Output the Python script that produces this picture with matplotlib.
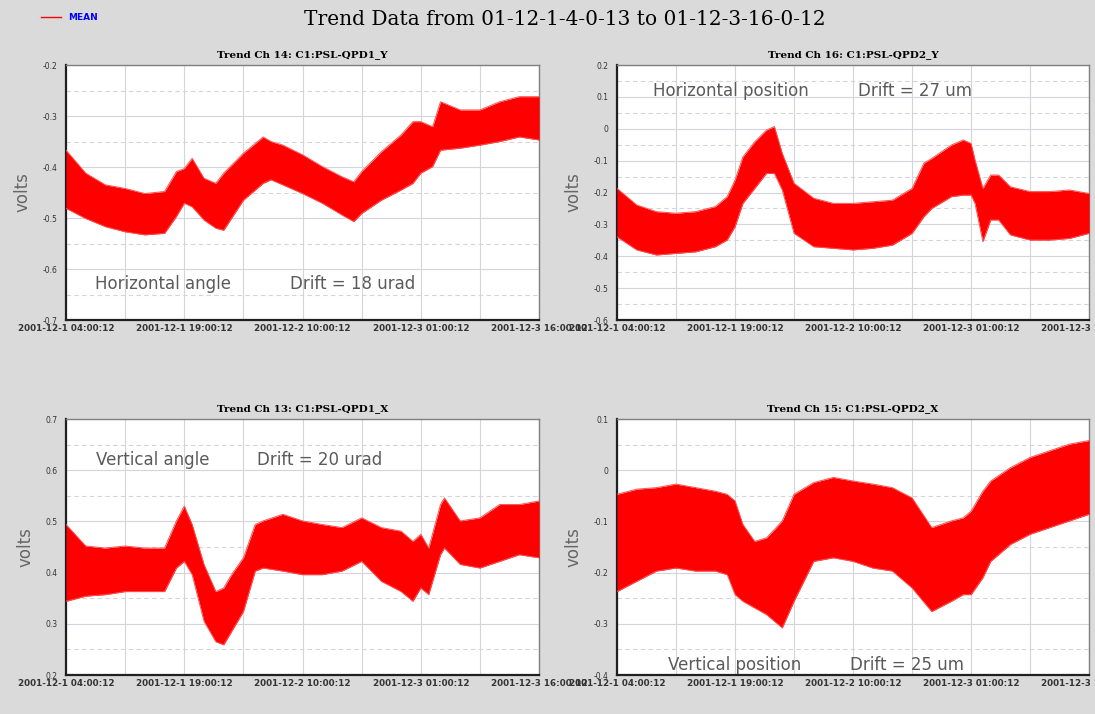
import matplotlib.pyplot as plt
from matplotlib.lines import Line2D
from matplotlib.ticker import MultipleLocator

# time axis: hours after 2001-12-1 04:00:12
tick_hours = [0, 15, 30, 45, 60]
tick_labels = ['2001-12-1 04:00:12', '2001-12-1 19:00:12', '2001-12-2 10:00:12',
               '2001-12-3 01:00:12', '2001-12-3 16:00:12']

# Ch 14: C1:PSL-QPD1_Y (band of the trend, upper / lower envelope)
qpd1y_hours = [0, 2.5, 5, 7.5, 10, 12.5, 14, 15, 16, 17.5, 19, 20, 22.5, 25, 26, 27.5,
               30, 32.5, 35, 36.5, 37.5, 40, 42.5, 44, 45, 46.5, 47.5, 50, 52.5, 55, 57.5, 60]
qpd1y_upper = [-0.367, -0.412, -0.435, -0.442, -0.452, -0.448, -0.409, -0.403, -0.383, -0.422,
               -0.432, -0.412, -0.373, -0.341, -0.350, -0.357, -0.376, -0.399, -0.419, -0.429,
               -0.409, -0.370, -0.337, -0.311, -0.311, -0.321, -0.272, -0.288, -0.288, -0.272,
               -0.262, -0.262]
qpd1y_lower = [-0.481, -0.501, -0.517, -0.527, -0.533, -0.530, -0.497, -0.471, -0.478, -0.504,
               -0.520, -0.524, -0.465, -0.432, -0.425, -0.435, -0.452, -0.471, -0.494, -0.507,
               -0.491, -0.465, -0.445, -0.432, -0.412, -0.399, -0.367, -0.363, -0.357, -0.350,
               -0.341, -0.347]

# Ch 16: C1:PSL-QPD2_Y
qpd2y_hours = [0, 2.5, 5, 7.5, 10, 12.5, 14, 15, 16, 17.5, 19, 20, 21, 22.5, 25, 27.5, 30,
               32.5, 35, 37.5, 39, 40, 42.5, 44, 45, 45.5, 46.5, 47.5, 48.5, 50, 52.5, 55, 57.5, 60]
qpd2y_upper = [-0.187, -0.239, -0.260, -0.265, -0.260, -0.244, -0.213, -0.161, -0.088, -0.041,
               -0.004, 0.007, -0.077, -0.171, -0.218, -0.234, -0.234, -0.229, -0.224, -0.187,
               -0.108, -0.093, -0.051, -0.035, -0.046, -0.098, -0.187, -0.145, -0.145, -0.182,
               -0.197, -0.197, -0.192, -0.203]
qpd2y_lower = [-0.339, -0.380, -0.396, -0.391, -0.386, -0.370, -0.349, -0.307, -0.234, -0.187,
               -0.140, -0.140, -0.192, -0.328, -0.370, -0.375, -0.380, -0.375, -0.365, -0.328,
               -0.276, -0.250, -0.213, -0.208, -0.208, -0.234, -0.354, -0.286, -0.286, -0.333,
               -0.349, -0.349, -0.344, -0.328]

# Ch 13: C1:PSL-QPD1_X
qpd1x_hours = [0, 2.5, 5, 7.5, 10, 12.5, 14, 15, 16, 17.5, 19, 20, 21, 22.5, 24, 25, 27.5,
               30, 32.5, 35, 37.5, 40, 42.5, 44, 45, 46, 47.5, 48, 50, 52.5, 55, 57.5, 60]
qpd1x_upper = [0.494, 0.452, 0.448, 0.452, 0.448, 0.448, 0.501, 0.530, 0.494, 0.416, 0.363,
               0.370, 0.396, 0.429, 0.494, 0.501, 0.514, 0.501, 0.494, 0.488, 0.507, 0.488,
               0.481, 0.461, 0.475, 0.448, 0.533, 0.546, 0.501, 0.507, 0.533, 0.533, 0.540]
qpd1x_lower = [0.344, 0.354, 0.357, 0.363, 0.363, 0.363, 0.409, 0.422, 0.396, 0.305, 0.265,
               0.259, 0.285, 0.324, 0.403, 0.409, 0.403, 0.396, 0.396, 0.403, 0.422, 0.383,
               0.363, 0.344, 0.370, 0.357, 0.435, 0.448, 0.416, 0.409, 0.422, 0.435, 0.429]

# Ch 15: C1:PSL-QPD2_X
qpd2x_hours = [0, 2.5, 5, 7.5, 10, 12.5, 14, 15, 16, 17.5, 19, 20, 21, 22.5, 25, 27.5, 30,
               32.5, 35, 37.5, 40, 42.5, 44, 45, 46.5, 47.5, 50, 52.5, 55, 57.5, 60]
qpd2x_upper = [-0.047, -0.037, -0.034, -0.027, -0.034, -0.041, -0.047, -0.060, -0.106, -0.139,
               -0.132, -0.116, -0.099, -0.047, -0.024, -0.014, -0.021, -0.027, -0.034, -0.054,
               -0.112, -0.099, -0.093, -0.080, -0.041, -0.021, 0.005, 0.025, 0.038, 0.051, 0.058]
qpd2x_lower = [-0.237, -0.217, -0.197, -0.191, -0.197, -0.197, -0.204, -0.243, -0.256, -0.269,
               -0.282, -0.295, -0.308, -0.256, -0.178, -0.171, -0.178, -0.191, -0.197, -0.230,
               -0.276, -0.256, -0.243, -0.243, -0.210, -0.178, -0.145, -0.125, -0.112, -0.099,
               -0.086]

bg = '#dadada'
fig = plt.figure(figsize=(10.95, 7.14), dpi=100, facecolor=bg)

fig.text(0.516, 0.973, 'Trend Data from 01-12-1-4-0-13 to 01-12-3-16-0-12',
         ha='center', va='center', fontsize=14.5, family='DejaVu Serif')

# legend in the top left corner
fig.legend(handles=[Line2D([], [], color='red', lw=1)], labels=['MEAN'],
           loc='center left', bbox_to_anchor=(0.030, 0.975), frameon=False,
           labelcolor='blue', handlelength=2.2, handletextpad=0.8,
           prop={'weight': 'bold', 'size': 6.5})

panels = [
    # rect, title, ylim, hours, upper, lower, (label, x), (drift, x), y
    ([0.0603, 0.5518, 0.4320, 0.3571], 'Trend Ch 14: C1:PSL-QPD1_Y', (-0.7, -0.2),
     qpd1y_hours, qpd1y_upper, qpd1y_lower,
     ('Horizontal angle', 0.061), ('Drift = 18 urad', 0.474), 0.141),
    ([0.5635, 0.5518, 0.4311, 0.3571], 'Trend Ch 16: C1:PSL-QPD2_Y', (-0.6, 0.2),
     qpd2y_hours, qpd2y_upper, qpd2y_lower,
     ('Horizontal position', 0.076), ('Drift = 27 um', 0.511), 0.898),
    ([0.0603, 0.0546, 0.4320, 0.3585], 'Trend Ch 13: C1:PSL-QPD1_X', (0.2, 0.7),
     qpd1x_hours, qpd1x_upper, qpd1x_lower,
     ('Vertical angle', 0.063), ('Drift = 20 urad', 0.404), 0.84),
    ([0.5635, 0.0546, 0.4311, 0.3585], 'Trend Ch 15: C1:PSL-QPD2_X', (-0.4, 0.1),
     qpd2x_hours, qpd2x_upper, qpd2x_lower,
     ('Vertical position', 0.108), ('Drift = 25 um', 0.494), 0.04),
]

for rect, title, ylim, hours, upper, lower, lab, drift, ty in panels:
    ax = fig.add_axes(rect)
    ax.set_facecolor('white')
    ax.fill_between(hours, lower, upper, color='#ff0000', lw=0, zorder=3)
    ax.plot(hours, upper, color='#ff5050', lw=0.7, zorder=3)
    ax.plot(hours, lower, color='#ff5050', lw=0.7, zorder=3)
    ax.set_xlim(0, 60)
    ax.set_ylim(*ylim)
    ax.set_xticks(tick_hours)
    ax.set_xticklabels(tick_labels, fontsize=6.3, fontweight='bold', color='#333333')
    ax.xaxis.set_minor_locator(MultipleLocator(7.5))
    ax.yaxis.set_major_locator(MultipleLocator(0.1))
    ax.yaxis.set_minor_locator(MultipleLocator(0.05))
    ax.yaxis.set_major_formatter(plt.FuncFormatter(lambda v, p: '0' if abs(v) < 1e-9 else f'{v:.1f}'))
    ax.tick_params(axis='y', labelsize=5.5, length=0, pad=6, colors='#333333')
    ax.tick_params(axis='x', length=0, pad=3)
    ax.tick_params(which='minor', length=0)
    ax.grid(axis='x', which='both', color='#d4d4dc', lw=0.8)
    ax.grid(axis='y', which='major', color='#d4d4dc', lw=0.8)
    ax.grid(axis='y', which='minor', color='#d4d4dc', lw=0.8, ls=(0, (4, 3)))
    ax.set_axisbelow(True)
    for side in ['left', 'bottom']:
        ax.spines[side].set_color('#202020')
        ax.spines[side].set_linewidth(1.6)
    for side in ['top', 'right']:
        ax.spines[side].set_color('#808080')
        ax.spines[side].set_linewidth(1.0)
    ax.set_title(title, fontsize=7.5, fontweight='bold', family='DejaVu Serif', pad=6)
    ax.set_ylabel('volts', fontsize=12, color='#666666', labelpad=8)
    ax.text(lab[1], ty, lab[0], transform=ax.transAxes, fontsize=12, color='#5a5a5a',
            ha='left', va='center', zorder=5)
    ax.text(drift[1], ty, drift[0], transform=ax.transAxes, fontsize=12, color='#5a5a5a',
            ha='left', va='center', zorder=5)

plt.savefig('out.png', dpi=100, facecolor=bg)
